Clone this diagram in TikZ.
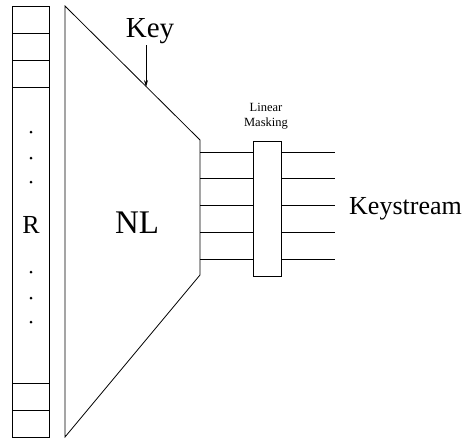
\documentclass[tikz,border=0pt]{standalone}
\usepackage{fontspec}
\setmainfont{Liberation Serif}
\usetikzlibrary{arrows.meta}
\tikzset{
  ln/.style={draw=black, line width=0.8pt},
  lbl/.style={inner sep=0pt, anchor=base},
  regdot/.style={circle, fill=black, inner sep=0pt, minimum size=3pt},
}
\begin{document}
\begin{tikzpicture}[x=1pt,y=-1pt]
\useasboundingbox (0,0) rectangle (465,440);
% register
\draw[ln] (12,6) rectangle (49,437);
\foreach \yy in {33,60,87,383,410} \draw[ln] (12,\yy) -- (49,\yy);
\foreach \yy/\nm in {132/d1,158/d2,182/d3,272/d4,298/d5,322/d6} \node[regdot] (\nm) at (31,\yy) {};
\node[lbl, font=\fontsize{26}{26}\selectfont] (R) at (31,233) {R};
% trapezoid
\coordinate (tl) at (65,6);
\coordinate (tr) at (200,140);
\coordinate (br) at (200,275);
\coordinate (bl) at (65,437);
\draw[ln, line join=miter] (tl) -- (tr) -- (br) -- (bl) -- cycle;
\node[lbl, font=\fontsize{33}{33}\selectfont] (NL) at (137,233) {NL};
% key
\node[lbl, font=\fontsize{29}{29}\selectfont] (key) at (150,37) {Key};
\coordinate (ka) at (146,45);
\coordinate (kb) at (146,87);
\draw[ln, -{Stealth[length=7pt,width=4pt]}] (ka) -- (kb);
% masking box
\node[ln, minimum width=28pt, minimum height=135pt, inner sep=0pt] (mask) at (267,208.5) {};
\node[align=center, inner sep=0pt, font=\fontsize{12.5}{14.5}\selectfont] (masklbl) at (266,116) {Linear\\Masking};
\foreach \yy [count=\i] in {152,178,205,232,259} {
  \coordinate (a\i) at (200,\yy);
  \coordinate (b\i) at (253,\yy);
  \coordinate (c\i) at (281,\yy);
  \coordinate (d\i) at (335,\yy);
  \draw[ln] (a\i) -- (b\i);
  \draw[ln] (c\i) -- (d\i);
}
\node[lbl, anchor=base west, font=\fontsize{26}{26}\selectfont] (ks) at (349,214) {Keystream};
\end{tikzpicture}
\end{document}
